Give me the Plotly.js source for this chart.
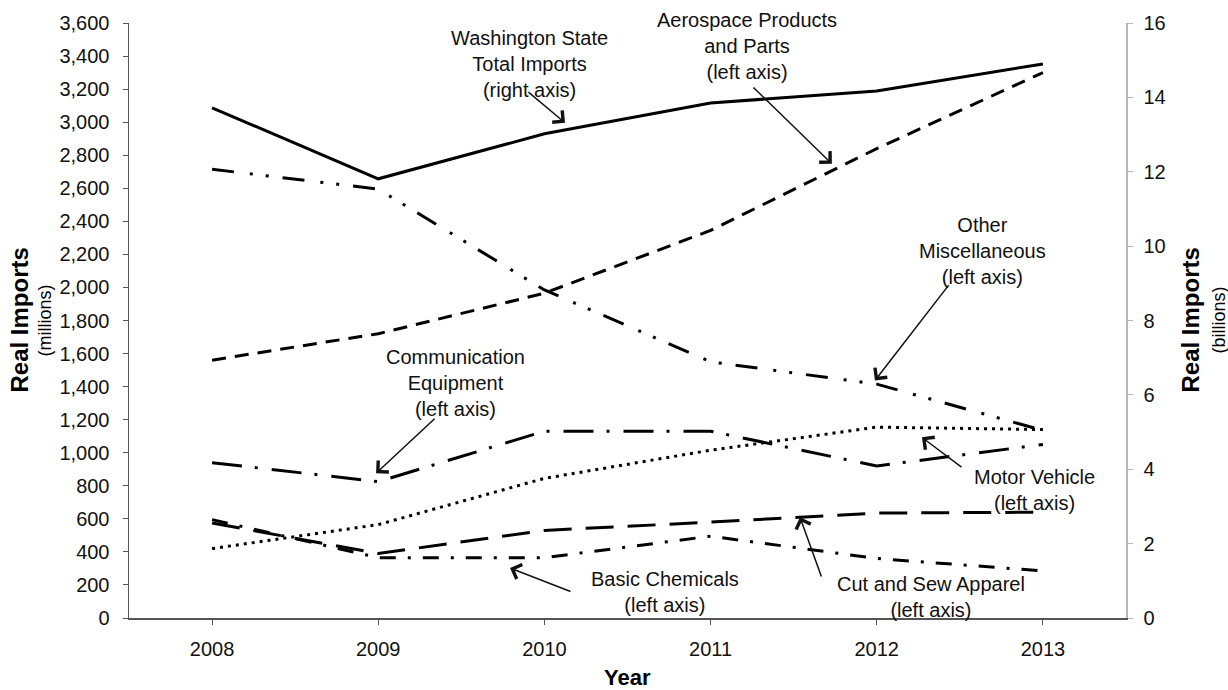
<!DOCTYPE html>
<html>
<head>
<meta charset="utf-8">
<script src="https://cdn.plot.ly/plotly-3.0.1.min.js"></script>
<style>
  html, body { margin: 0; padding: 0; background: #fff; }
  #chart { width: 1228px; height: 690px; }
</style>
</head>
<body>
<div id="chart"></div>
<script>
// ---- Data ----
const years = [2008, 2009, 2010, 2011, 2012, 2013];
// Right axis, billions
const totalImports = [13.72, 11.81, 13.02, 13.85, 14.17, 14.9];
// Left axis, millions
const aerospace    = [1560, 1720, 1965, 2345, 2840, 3300];
const otherMisc    = [2715, 2595, 1985, 1550, 1415, 1135];
const commEquip    = [940, 825, 1130, 1130, 920, 1050];
const motorVehicle = [420, 565, 845, 1015, 1155, 1140];
const cutSew       = [575, 390, 530, 580, 635, 640];
const basicChem    = [595, 365, 365, 495, 360, 285];

const leftTicks  = [0, 200, 400, 600, 800, 1000, 1200, 1400, 1600, 1800, 2000, 2200, 2400, 2600, 2800, 3000, 3200, 3400, 3600];
const rightTicks = [0, 2, 4, 6, 8, 10, 12, 14, 16];

const labelTexts = {
  total: 'Washington State<br>Total Imports<br>(right axis)',
  aero: 'Aerospace Products<br>and Parts<br>(left axis)',
  misc: 'Other<br>Miscellaneous<br>(left axis)',
  comm: 'Communication<br>Equipment<br>(left axis)',
  motor: 'Motor Vehicle<br>(left axis)',
  apparel: 'Cut and Sew Apparel<br>(left axis)',
  chem: 'Basic Chemicals<br>(left axis)'
};

// ---- Styling ----
const FONT = '"Liberation Sans", Arial, Helvetica, sans-serif';
const INK = '#111';

function line(y, dash, width, axis) {
  return {
    x: years, y: y, type: 'scatter', mode: 'lines',
    yaxis: axis || 'y',
    line: { color: '#000', width: width || 3, dash: dash },
    hoverinfo: 'skip', showlegend: false
  };
}

const traces = [
  line(aerospace, '14px,9px', 3),
  line(otherMisc, '22px,16px,3px,13px,3px,14px', 3),
  line(commEquip, '30px,13px,3px,14px', 3),
  line(motorVehicle, '3px,5px', 3),
  line(cutSew, '28px,14px', 3),
  line(basicChem, '16px,12px,3px,12px', 3),
  line(totalImports, 'solid', 3, 'y2')
];

function label(text, x, y) {
  return { text: text, x: x, y: y, xref: 'x', yref: 'y', showarrow: false,
           align: 'center', xanchor: 'center', yanchor: 'middle',
           font: { family: FONT, size: 20, color: INK } };
}
function arrow(tailX, tailY, headX, headY) {
  return { text: '', x: headX, y: headY, ax: tailX, ay: tailY,
           xref: 'x', yref: 'y', axref: 'x', ayref: 'y',
           showarrow: true, arrowhead: 4, arrowsize: 2, arrowwidth: 1.5,
           arrowcolor: '#111', standoff: 0, startstandoff: 0 };
}
function title(text, x, size, bold) {
  return { text: bold ? '<b>' + text + '</b>' : text, x: x, y: 0.5,
           xref: 'paper', yref: 'paper', showarrow: false, textangle: -90,
           xanchor: 'center', yanchor: 'middle',
           font: { family: FONT, size: size, color: '#000' } };
}

const annotations = [
  label(labelTexts.total, 2009.913, 3352),
  label(labelTexts.aero, 2011.219, 3461),
  label(labelTexts.misc, 2012.639, 2223),
  label(labelTexts.comm, 2009.462, 1419),
  label(labelTexts.motor, 2012.952, 773),
  label(labelTexts.apparel, 2012.326, 127),
  label(labelTexts.chem, 2010.726, 157),
  arrow(2009.895, 3189, 2010.124, 2996),
  arrow(2011.249, 3219, 2011.730, 2748),
  arrow(2012.44, 2023, 2011.989, 1437),
  arrow(2009.348, 1214, 2008.987, 876),
  arrow(2012.519, 906, 2012.272, 1093),
  arrow(2011.670, 242, 2011.538, 610),
  arrow(2010.166, 157, 2009.793, 302),
  title('Real Imports', -0.1103, 24, true),
  title('(millions)', -0.0843, 18, false),
  title('Real Imports', 1.0642, 24, true),
  title('(billions)', 1.0923, 18, false),
  { text: '<b>Year</b>', x: 0.5, y: -0.1008, xref: 'paper', yref: 'paper',
    showarrow: false, xanchor: 'center', yanchor: 'middle',
    font: { family: FONT, size: 22, color: '#000' } }
];

const layout = {
  width: 1228, height: 690,
  margin: { l: 129, r: 102, t: 23, b: 72, pad: 0 },
  paper_bgcolor: '#fff', plot_bgcolor: '#fff',
  font: { family: FONT, color: INK },
  showlegend: false,
  xaxis: {
    range: [2007.5, 2013.5], tickvals: years, ticktext: years.map(String),
    showgrid: false, zeroline: false, showline: true, linecolor: '#555', linewidth: 1.5,
    ticks: 'outside', ticklen: 5, tickcolor: '#555', tickwidth: 1,
    ticklabelstandoff: 7,
    tickfont: { family: FONT, size: 20, color: INK }
  },
  yaxis: {
    range: [0, 3600], tickvals: leftTicks, tickformat: ',d',
    showgrid: false, zeroline: false, showline: true, linecolor: '#555', linewidth: 1.5,
    ticks: 'outside', ticklen: 5, tickcolor: '#555', tickwidth: 1,
    ticklabelstandoff: 9,
    tickfont: { family: FONT, size: 20, color: INK }
  },
  yaxis2: {
    range: [0, 16], tickvals: rightTicks, overlaying: 'y', side: 'right',
    showgrid: false, zeroline: false, showline: true, linecolor: '#b5b5b5', linewidth: 1.5,
    ticks: 'outside', ticklen: 5, tickcolor: '#b5b5b5', tickwidth: 1,
    ticklabelstandoff: 7,
    tickfont: { family: FONT, size: 20, color: INK }
  },
  annotations: annotations
};

Plotly.newPlot('chart', traces, layout, { displayModeBar: false, staticPlot: true });
</script>
</body>
</html>
